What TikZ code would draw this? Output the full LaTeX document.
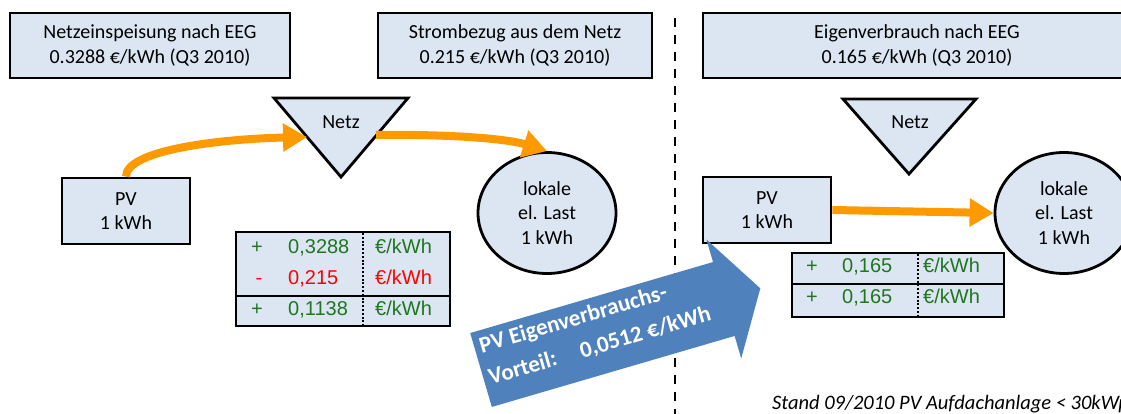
\documentclass[tikz,border=0pt]{standalone}
\usepackage{fontspec}
\setmainfont{Carlito}
\newfontfamily\arialfont{Liberation Sans}
\usetikzlibrary{arrows.meta,shapes.geometric}
\definecolor{boxfill}{HTML}{DCE6F2}
\definecolor{flow}{HTML}{FF9900}
\definecolor{bigblue}{HTML}{4F81BD}
\definecolor{valgreen}{RGB}{31,118,31}
\definecolor{valred}{RGB}{255,0,0}
\begin{document}
\begin{tikzpicture}[x=1pt,y=-1pt,
  box/.style={draw=black, line width=2.8pt, fill=boxfill},
  txt/.style={font=\fontsize{20}{24.5}\selectfont, align=center, inner sep=0pt},
  flowarrow/.style={draw=flow, line width=8pt, -{Triangle[length=24pt,width=27pt]}},
  cell/.style={font=\arialfont\fontsize{20}{24}\selectfont, anchor=base west, inner sep=0pt},
  sign/.style={font=\arialfont\fontsize{20}{24}\selectfont, anchor=base, inner sep=0pt},
  rulestyle/.style={line width=2.8pt, black},
  dotsep/.style={line width=2.2pt, black, dash pattern=on 2pt off 1.8pt},
  divider/.style={line width=2.5pt, black, dash pattern=on 9pt off 8pt}
]
\useasboundingbox (0,0) rectangle (1121,414);
\clip (0,0) rectangle (1121,414);

% header boxes
\node[box, txt, minimum width=280pt, minimum height=65pt] (feed) at (150,45.5) {Netzeinspeisung nach EEG\\0.3288 €/kWh (Q3 2010)};
\node[box, txt, minimum width=274pt, minimum height=65pt] (grid) at (515,45.5) {Strombezug aus dem Netz\\0.215 €/kWh (Q3 2010)};
\node[box, txt, minimum width=428pt, minimum height=65pt] (own) at (917,45.5) {Eigenverbrauch nach EEG\\0.165 €/kWh (Q3 2010)};

% divider
\draw[divider] (675,18) -- (675,414);

% left scenario
\draw[box] (274,98) -- (408,98) -- (341,177) -- cycle;
\node[txt] (netz1) at (341,122) {Netz};
\coordinate (n1in) at (307,137);
\coordinate (n1out) at (376,135);
\node[box, txt, minimum width=128pt, minimum height=66pt] (pv1) at (126,211) {PV\\1 kWh};
\node[box, txt, ellipse, minimum width=138pt, minimum height=121pt] (last1) at (547,213) {lokale\\el. Last\\1 kWh};
\draw[flowarrow] (pv1.north) .. controls (126,150) and (220,139) .. (n1in);
\draw[flowarrow] (n1out) .. controls (440,134) and (505,138) .. (last1.north);

% table 1
\node[box, minimum width=214pt, minimum height=94pt, inner sep=0pt] (tab1) at (343,279) {};
\draw[rulestyle] (236,296) -- (450,296);
\draw[dotsep] (363,233) -- (363,325);
\node[sign, text=valgreen] (s11) at (257,253) {+};
\node[cell, text=valgreen] (v11) at (288,253) {0,3288};
\node[cell, text=valgreen] (u11) at (375,253) {€/kWh};
\node[sign, text=valred] (s12) at (259,284) {-};
\node[cell, text=valred] (v12) at (288,284) {0,215};
\node[cell, text=valred] (u12) at (375,284) {€/kWh};
\node[sign, text=valgreen] (s13) at (257,315) {+};
\node[cell, text=valgreen] (v13) at (288,315) {0,1138};
\node[cell, text=valgreen] (u13) at (375,315) {€/kWh};

% right scenario
\draw[box] (843,99) -- (976,99) -- (909,174) -- cycle;
\node[txt] (netz2) at (910,122) {Netz};
\node[box, txt, minimum width=128pt, minimum height=66pt] (pv2) at (767,210) {PV\\1 kWh};
\node[box, txt, ellipse, minimum width=138pt, minimum height=121pt] (last2) at (1064,213) {lokale\\el. Last\\1 kWh};
\draw[flowarrow] (pv2.east) -- (last2.west);

% table 2
\node[box, minimum width=212pt, minimum height=64pt, inner sep=0pt] (tab2) at (898,285) {};
\draw[rulestyle] (792,284) -- (1004,284);
\draw[dotsep] (918,254) -- (918,316);
\node[sign, text=valgreen] (s21) at (812,272) {+};
\node[cell, text=valgreen] (v21) at (842,272) {0,165};
\node[cell, text=valgreen] (u21) at (923,272) {€/kWh};
\node[sign, text=valgreen] (s22) at (812,303) {+};
\node[cell, text=valgreen] (v22) at (842,303) {0,165};
\node[cell, text=valgreen] (u22) at (923,303) {€/kWh};

% big blue arrow
\begin{scope}[shift={(481,370)}, rotate=16.3]
\fill[bigblue] (0,-38.5) -- (253,-38.5) -- (253,-62) -- (291,0) -- (253,62) -- (253,38.5) -- (0,38.5) -- cycle;
\node[transform shape, anchor=base west, align=left, text=white, font=\bfseries\fontsize{23}{33}\selectfont, inner sep=0pt] (gain) at (5.5,17) {PV Eigenverbrauchs-\\Vorteil:\hspace{25pt}0,0512 €/kWh};
\end{scope}

% footer
\node[font=\itshape\fontsize{20.5}{24}\selectfont, anchor=base west, inner sep=0pt] (stand) at (772,409) {Stand 09/2010 PV Aufdachanlage < 30kWp};
\end{tikzpicture}
\end{document}
